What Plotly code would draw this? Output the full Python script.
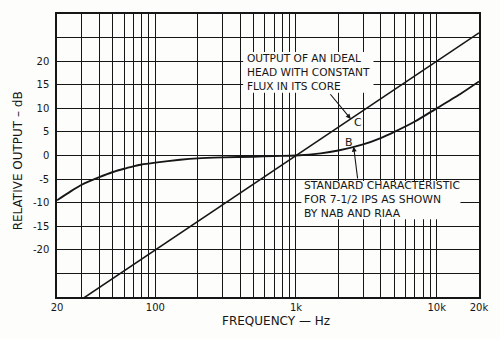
import numpy as np
import plotly.graph_objects as go

# Curve B: standard 7-1/2 ips record characteristic (NAB / RIAA)
freq_b = [20, 25, 30, 40, 50, 60, 70, 80, 100, 150, 200, 300, 500, 700,
          1000, 1500, 2000, 3000, 4000, 5000, 7000, 10000, 15000, 20000]
level_b = [-9.5, -7.6, -6.2, -4.6, -3.5, -2.8, -2.3, -1.9, -1.5, -0.9, -0.6,
           -0.4, -0.25, -0.1, 0.0, 0.45, 1.05, 2.35, 3.7, 5.0, 7.2, 10.0, 13.2, 15.7]

# Curve C: ideal head output, constant core flux (6 dB/octave)
freq_c = [20, 20000]
level_c = [-34.0, 26.0]

# Grid / tick definitions
grid_freqs = [20, 30, 40, 50, 60, 70, 80, 90,
              100, 200, 300, 400, 500, 600, 700, 800, 900,
              1000, 2000, 3000, 4000, 5000, 6000, 7000, 8000, 9000,
              10000, 20000]
freq_labels = {20: "20", 100: "100", 1000: "1k", 10000: "10k", 20000: "20k"}
level_ticks = [-25, -20, -15, -10, -5, 0, 5, 10, 15, 20, 25]
level_labels = ["", "-20", "-15", "-10", "-5", "0", "5", "10", "15", "20", ""]

# Callout texts
note_c_lines = ["OUTPUT OF AN IDEAL", "HEAD WITH CONSTANT", "FLUX IN ITS CORE"]
note_b_lines = ["STANDARD CHARACTERISTIC", "FOR 7-1/2 IPS AS SHOWN", "BY NAB AND RIAA"]

INK = "#161616"
PAPER = "#fdfdfb"
FONT = "DejaVu Sans"

fig = go.Figure()
fig.add_trace(go.Scatter(x=freq_b, y=level_b, mode="lines",
                         line=dict(color=INK, width=1.9, shape="spline", smoothing=0.6),
                         hoverinfo="skip"))
fig.add_trace(go.Scatter(x=freq_c, y=level_c, mode="lines",
                         line=dict(color=INK, width=1.6),
                         hoverinfo="skip"))


def level_at(freqs, levels, f):
    return float(np.interp(np.log10(f), np.log10(freqs), levels))


# blank patches that clear the grid behind the callout texts
masks = [
    (0.441, 0.750, 0.722, 0.866),
    (0.579, 0.956, 0.275, 0.410),
]
for x0, x1, y0, y1 in masks:
    fig.add_shape(type="rect", xref="paper", yref="paper", x0=x0, x1=x1, y0=y0, y1=y1,
                  fillcolor=PAPER, line=dict(width=0), layer="above")

annotations = [
    dict(text="<br>".join(note_c_lines), xref="paper", yref="paper", x=0.449, y=0.794,
         xanchor="left", yanchor="middle", align="left", showarrow=False, borderpad=0,
         font=dict(family=FONT, size=10.6, color=INK)),
    dict(text="<br>".join(note_b_lines), xref="paper", yref="paper", x=0.582, y=0.343,
         xanchor="left", yanchor="middle", align="left", showarrow=False, borderpad=0,
         font=dict(family=FONT, size=10.8, color=INK)),
    dict(text="C", xref="x", yref="y", x=np.log10(2750), y=7.0, showarrow=False,
         font=dict(family=FONT, size=11, color=INK)),
    dict(text="B", xref="x", yref="y", x=np.log10(2380), y=2.75, showarrow=False,
         font=dict(family=FONT, size=11, color=INK)),
    # leader arrows to the curves
    dict(text="", xref="x", yref="y", axref="x", ayref="y",
         x=np.log10(2450), y=level_at(freq_c, level_c, 2450),
         ax=np.log10(1720), ay=13.3,
         showarrow=True, arrowhead=2, arrowsize=0.9, arrowwidth=1.1, arrowcolor=INK),
    dict(text="", xref="x", yref="y", axref="x", ayref="y",
         x=np.log10(2570), y=level_at(freq_b, level_b, 2570),
         ax=np.log10(2750), ay=-5.2,
         showarrow=True, arrowhead=2, arrowsize=0.9, arrowwidth=1.1, arrowcolor=INK),
    # axis titles
    dict(text="FREQUENCY — Hz", xref="paper", yref="paper", x=0.518, y=-0.086,
         xanchor="center", yanchor="middle", showarrow=False,
         font=dict(family=FONT, size=12, color=INK)),
    dict(text="RELATIVE OUTPUT – dB", xref="paper", yref="paper", x=-0.092, y=0.48,
         xanchor="center", yanchor="middle", textangle=-90, showarrow=False,
         font=dict(family=FONT, size=12, color=INK)),
]

fig.update_layout(
    width=500, height=339,
    margin=dict(l=57, r=15, t=13, b=42, pad=0),
    paper_bgcolor=PAPER, plot_bgcolor=PAPER,
    showlegend=False,
    annotations=annotations,
    xaxis=dict(type="log", range=[np.log10(20), np.log10(20000)],
               tickvals=grid_freqs,
               ticktext=[freq_labels.get(f, "") for f in grid_freqs],
               showgrid=True, gridcolor=INK, gridwidth=1.2,
               showline=True, mirror=True, linecolor=INK, linewidth=1.5,
               ticks="", zeroline=False,
               tickfont=dict(family=FONT, size=10, color=INK)),
    yaxis=dict(range=[-30, 30], tickvals=level_ticks, ticktext=level_labels,
               showgrid=True, gridcolor=INK, gridwidth=1.2,
               showline=True, mirror=True, linecolor=INK, linewidth=1.5,
               ticks="", zeroline=False, ticklabelstandoff=4,
               tickfont=dict(family=FONT, size=10, color=INK)),
)

fig.write_html("out.html")
